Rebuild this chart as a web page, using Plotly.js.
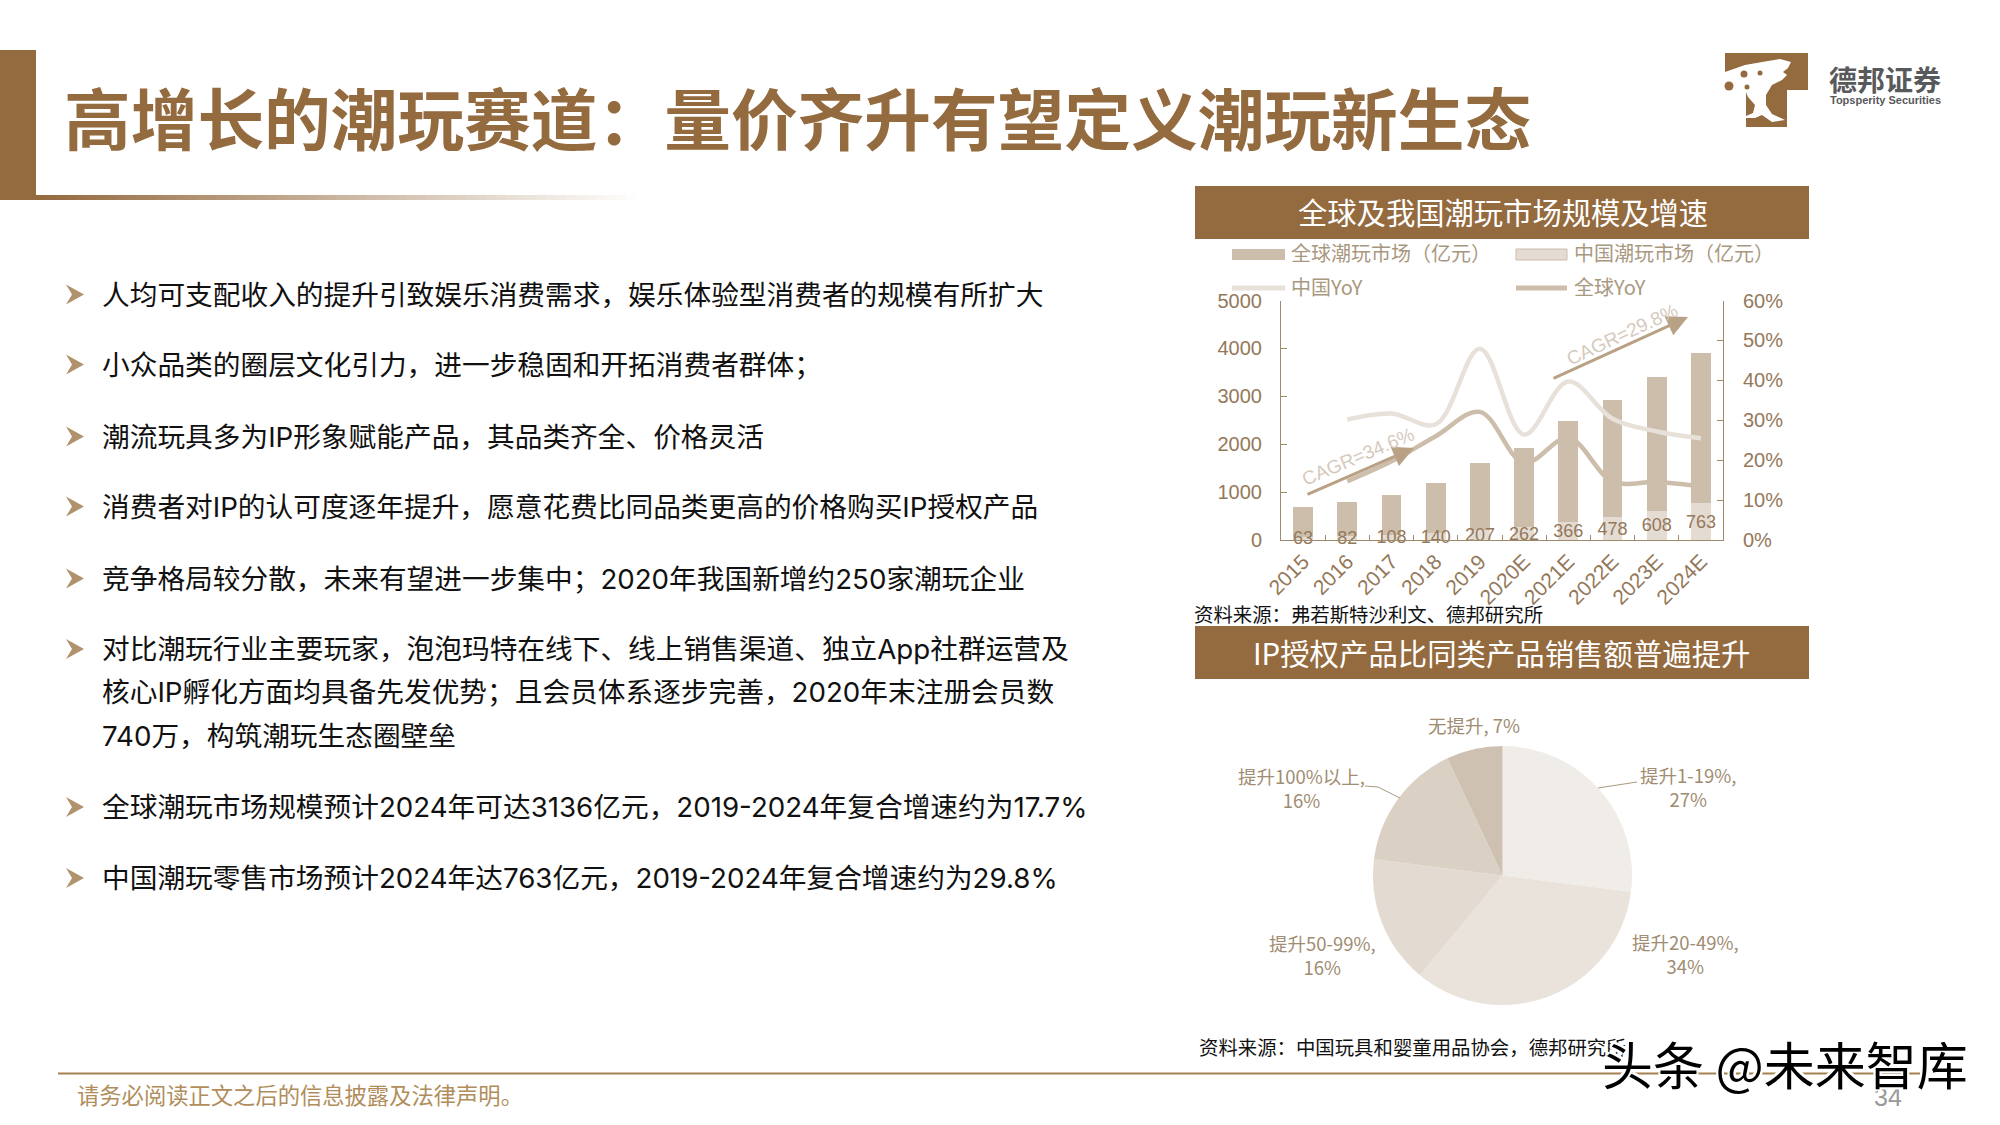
<!DOCTYPE html>
<html>
<head>
<meta charset="utf-8">
<script src="https://cdn.plot.ly/plotly-3.0.1.min.js"></script>
<style>
  html, body { margin: 0; padding: 0; background: #fff; overflow: hidden; }
</style>
</head>
<body>
<div id="slide" style="width:2000px;height:1125px"></div>
<script>
var years = ['2015', '2016', '2017', '2018', '2019', '2020E', '2021E', '2022E', '2023E', '2024E']
var chinaMarket = [63, 82, 108, 140, 207, 262, 366, 478, 608, 763]
var globalMarket = [622, 715, 836, 1056, 1401, 1668, 2110, 2438, 2791, 3136]
var chinaYoY = [null, 30.2, 31.7, 29.0, 47.9, 26.4, 39.7, 30.4, 27.2, 25.5]
var globalYoY = [null, 14.7, 19.7, 26.0, 32.1, 19.3, 25.6, 14.7, 14.5, 13.4]
var yoyTicks = [0, 10, 20, 30, 40, 50, 60]
var yoyTickLabels = ['0%', '10%', '20%', '30%', '40%', '50%', '60%']

var pieLabels = ['提升1-19%', '提升20-49%', '提升50-99%', '提升100%以上', '无提升']
var pieValues = [27, 34, 16, 16, 7]
var pieColors = ['#F0ECE7', '#E9E3DC', '#E3DBD1', '#DBD0C4', '#CFC1B1']

var pageTitle = '高增长的潮玩赛道：量价齐升有望定义潮玩新生态'
var bulletLines = [
  ['人均可支配收入的提升引致娱乐消费需求，娱乐体验型消费者的规模有所扩大'],
  ['小众品类的圈层文化引力，进一步稳固和开拓消费者群体；'],
  ['潮流玩具多为IP形象赋能产品，其品类齐全、价格灵活'],
  ['消费者对IP的认可度逐年提升，愿意花费比同品类更高的价格购买IP授权产品'],
  ['竞争格局较分散，未来有望进一步集中；2020年我国新增约250家潮玩企业'],
  ['对比潮玩行业主要玩家，泡泡玛特在线下、线上销售渠道、独立App社群运营及',
   '核心IP孵化方面均具备先发优势；且会员体系逐步完善，2020年末注册会员数',
   '740万，构筑潮玩生态圈壁垒'],
  ['全球潮玩市场规模预计2024年可达3136亿元，2019-2024年复合增速约为17.7%'],
  ['中国潮玩零售市场预计2024年达763亿元，2019-2024年复合增速约为29.8%']
]
var bulletRows = [294.5, 364.5, 436.5, 506.5, 578.5, 649, 692, 736, 807, 878]

var CJK = '"Noto Sans CJK SC", "Liberation Sans", sans-serif'
var BODY = 'Inter, "Noto Sans CJK SC", sans-serif'
var LATIN = '"Liberation Sans", "Noto Sans CJK SC", sans-serif'
var BROWN = '#946A3F'
var TICK = '#94785A'
var BAR_GLOBAL = '#CDBDAB'
var BAR_CHINA = '#E4DCD3'
var LINE_CHINA = '#E8E1DA'
var LINE_GLOBAL = '#CDBDAB'

// slide is drawn in page pixels, these turn them into paper coordinates
function px(x) { return x / 2000 }
function py(y) { return 1 - y / 1125 }

function rect(x0, y0, x1, y1, fill, border) {
  return {
    type: 'rect', xref: 'paper', yref: 'paper',
    x0: px(x0), x1: px(x1), y0: py(y0), y1: py(y1),
    fillcolor: fill, line: {width: border ? 1 : 0, color: border || fill}
  }
}
function line(x0, y0, x1, y1, color, width) {
  return {
    type: 'line', xref: 'paper', yref: 'paper',
    x0: px(x0), x1: px(x1), y0: py(y0), y1: py(y1),
    line: {color: color, width: width}
  }
}
function dot(x, y, r, fill) {
  return {
    type: 'circle', xref: 'paper', yref: 'paper',
    x0: px(x - r), x1: px(x + r), y0: py(y - r), y1: py(y + r),
    fillcolor: fill, line: {width: 0}
  }
}
function poly(points, fill) {
  var d = points.map(function (p, i) {
    return (i ? 'L' : 'M') + px(p[0]) + ',' + py(p[1])
  }).join('') + 'Z'
  return {type: 'path', xref: 'paper', yref: 'paper', path: d, fillcolor: fill, line: {width: 0}}
}
function label(x, y, text, size, color, opts) {
  return Object.assign({
    xref: 'paper', yref: 'paper', x: px(x), y: py(y), text: text, showarrow: false,
    xanchor: 'left', yanchor: 'middle', align: 'left',
    font: {family: CJK, size: size, color: color}
  }, opts || {})
}

var shapes = []
var annotations = []

/**
 * HEADER
 */
shapes.push(rect(0, 50, 36, 200, BROWN))
for (var i = 0; i < 60; i++) {
  var t = i / 60
  var r = Math.round(148 + (255 - 148) * t)
  var g = Math.round(106 + (255 - 106) * t)
  var b = Math.round(63 + (255 - 63) * t)
  shapes.push(rect(36 + i * 10, 195, 46 + i * 10, 200, 'rgb(' + r + ',' + g + ',' + b + ')'))
}
annotations.push(label(62, 115.6, '<b>' + pageTitle + '</b>', 66.7, BROWN))

// logo
shapes.push(poly([[1725, 53], [1808, 53], [1808, 90], [1787, 90], [1787, 127], [1746, 127], [1746, 90], [1725, 90]], BROWN))
shapes.push(poly([
  [1725, 72], [1745, 65], [1768, 61], [1780, 59], [1791, 62], [1788, 68], [1783, 72], [1787, 75],
  [1782, 80], [1772, 85], [1766, 95], [1766, 105], [1772, 114], [1785, 120], [1772, 122], [1762, 115],
  [1755, 118], [1746, 118], [1746, 116], [1753, 113], [1755, 105], [1748, 97], [1746, 92], [1725, 92]
], '#fff'))
shapes.push(dot(1744, 74, 3.5, BROWN), dot(1760, 73, 2.5, BROWN), dot(1729, 86, 4.5, BROWN), dot(1747, 87, 2.5, BROWN))
annotations.push(label(1827, 79, '<b>德邦证券</b>', 28, '#58595B'))
annotations.push(label(1828, 100, '<b>Topsperity Securities</b>', 11, '#58595B', {font: {family: LATIN, size: 11, color: '#58595B'}}))

/**
 * BULLETS
 */
var row = 0
bulletLines.forEach(function (lines) {
  var y = bulletRows[row]
  shapes.push(poly([[66, y - 10], [84, y], [66, y + 10], [72, y]], '#B0926C'))
  lines.forEach(function (text) {
    annotations.push(label(99.5, bulletRows[row], text, 27.7, '#111111', {font: {family: BODY, size: 27.7, color: '#111111'}}))
    row++
  })
})

/**
 * MARKET SIZE AND GROWTH
 * Stacked bars on the left axis, two YoY lines on the right
 */
shapes.push(rect(1195, 186, 1809, 239, BROWN))
annotations.push(label(1503, 211, '全球及我国潮玩市场规模及增速', 29.3, '#fff', {xanchor: 'center'}))

shapes.push(rect(1232, 249, 1285, 260, BAR_GLOBAL))
annotations.push(label(1288.5, 252.5, '全球潮玩市场（亿元）', 20, '#A99880'))
shapes.push(rect(1516, 249, 1567, 260, BAR_CHINA, BAR_GLOBAL))
annotations.push(label(1571.5, 252.5, '中国潮玩市场（亿元）', 20, '#A99880'))
shapes.push(line(1232, 288, 1285, 288, LINE_CHINA, 5))
annotations.push(label(1288.5, 286, '中国YoY', 20, '#A99880'))
shapes.push(line(1516, 288, 1567, 288, LINE_GLOBAL, 5))
annotations.push(label(1571.5, 286, '全球YoY', 20, '#A99880'))

function growthArrow(x0, y0, x1, y1) {
  return {
    xref: 'paper', yref: 'paper', x: px(x1), y: py(y1), ax: x0 - x1, ay: y0 - y1,
    axref: 'pixel', ayref: 'pixel', text: '', showarrow: true,
    arrowhead: 2, arrowsize: 1.4, arrowwidth: 3, arrowcolor: '#B8A184'
  }
}
annotations.push(growthArrow(1306, 495, 1414, 448))
annotations.push(growthArrow(1552, 379, 1688, 317))
annotations.push(label(1358, 456, 'CAGR=34.6%', 19, '#D5CABD', {xanchor: 'center', textangle: -23, font: {family: LATIN, size: 19, color: '#D5CABD'}}))
annotations.push(label(1622, 334, 'CAGR=29.8%', 19, '#D5CABD', {xanchor: 'center', textangle: -25, font: {family: LATIN, size: 19, color: '#D5CABD'}}))

annotations.push(label(1192, 613, '资料来源：弗若斯特沙利文、德邦研究所', 19.4, '#111111'))

var chart_data_market = [
  {
    x: years,
    y: chinaMarket,
    name: '中国潮玩市场（亿元）',
    type: 'bar',
    marker: {color: BAR_CHINA},
    hoverinfo: 'x+y'
  },
  {
    x: years,
    y: globalMarket,
    name: '全球潮玩市场（亿元）',
    type: 'bar',
    marker: {color: BAR_GLOBAL},
    hoverinfo: 'x+y'
  },
  {
    x: years,
    y: chinaYoY,
    name: '中国YoY',
    yaxis: 'y2',
    type: 'scatter',
    mode: 'lines',
    line: {color: LINE_CHINA, width: 4.5, shape: 'spline', smoothing: 1}
  },
  {
    x: years,
    y: globalYoY,
    name: '全球YoY',
    yaxis: 'y2',
    type: 'scatter',
    mode: 'lines',
    line: {color: LINE_GLOBAL, width: 4.5, shape: 'spline', smoothing: 1}
  },
  // China values sit in the middle of the light bar, on top of everything
  // (small drop because scatter text rides a bit high)
  {
    x: years,
    y: chinaMarket.map(function (v) { return v / 2 - 31 }),
    type: 'scatter',
    mode: 'text',
    text: chinaMarket.map(String),
    textposition: 'middle center',
    textfont: {family: LATIN, size: 18, color: TICK},
    cliponaxis: false,
    hoverinfo: 'skip'
  }
]

/**
 * SALES UPLIFT OF IP LICENSED PRODUCTS
 * Pie chart, five sections, labels placed by hand as in the slide
 */
shapes.push(rect(1195, 626, 1809, 679, BROWN))
annotations.push(label(1501, 651.5, 'IP授权产品比同类产品销售额普遍提升', 29.4, '#fff', {xanchor: 'center'}))

var pieLabelSpots = [[1688, 787], [1685, 954], [1322, 955], [1301, 787.5], [1473.5, 724.5]]
pieLabels.forEach(function (name, i) {
  var text = i === 4 ? name + ', ' + pieValues[i] + '%' : name + ',<br>' + pieValues[i] + '%'
  annotations.push(label(pieLabelSpots[i][0], pieLabelSpots[i][1], text, 18.5, '#A08C72', {xanchor: 'center', align: 'center'}))
})
shapes.push(line(1598, 788, 1637, 782, '#A99880', 1))
shapes.push(line(1400, 798, 1378, 787, '#A99880', 1))
shapes.push(line(1378, 787, 1365, 786, '#A99880', 1))

annotations.push(label(1197, 1046, '资料来源：中国玩具和婴童用品协会，德邦研究所', 19.4, '#111111'))

var chart_data_pie = {
  type: 'pie',
  labels: pieLabels,
  values: pieValues,
  sort: false,
  direction: 'clockwise',
  rotation: 0,
  textinfo: 'none',
  hoverinfo: 'label+percent',
  marker: {colors: pieColors, line: {width: 0}},
  domain: {x: [px(1373), px(1632)], y: [py(1005), py(746)]}
}

/**
 * FOOTER
 */
shapes.push(line(58, 1073.5, 1920, 1073.5, '#A5814F', 2))
annotations.push(label(75, 1094, '请务必阅读正文之后的信息披露及法律声明。', 22.3, '#B08D5B'))
annotations.push(label(1872, 1097, '34', 25, '#999999', {font: {family: LATIN, size: 25, color: '#999999'}}))
annotations.push(label(1600, 1063, '头条 @未来智库', 51, '#000', {
  font: {
    family: CJK, size: 51, color: '#000',
    shadow: '2px 2px 0 #fff, -2px -2px 0 #fff, 2px -2px 0 #fff, -2px 2px 0 #fff'
  }
}))

var chart_layout = {
  width: 2000,
  height: 1125,
  margin: {l: 0, r: 0, t: 0, b: 0},
  paper_bgcolor: '#fff',
  plot_bgcolor: 'rgba(0,0,0,0)',
  showlegend: false,
  barmode: 'stack',
  bargap: 0.55,
  font: {family: LATIN, color: TICK},
  xaxis: {
    domain: [px(1281), px(1723)],
    type: 'category',
    anchor: 'y',
    tickangle: -45,
    tickson: 'boundaries',
    ticks: 'inside',
    ticklen: 5,
    tickcolor: '#A08A6E',
    showline: true,
    linecolor: '#A08A6E',
    showgrid: false,
    tickfont: {family: LATIN, size: 21, color: TICK}
  },
  yaxis: {
    domain: [py(540), py(300.5)],
    range: [0, 5000],
    tickvals: [0, 1000, 2000, 3000, 4000, 5000],
    ticks: 'inside',
    ticklen: 6,
    tickcolor: '#A08A6E',
    showline: true,
    linecolor: '#A08A6E',
    showgrid: false,
    zeroline: false,
    ticklabelstandoff: 14,
    tickfont: {family: LATIN, size: 20, color: TICK}
  },
  yaxis2: {
    domain: [py(540), py(300.5)],
    range: [0, 60],
    overlaying: 'y',
    side: 'right',
    anchor: 'x',
    tickmode: 'array',
    tickvals: yoyTicks,
    ticktext: yoyTickLabels,
    ticks: 'inside',
    ticklen: 6,
    tickcolor: '#A08A6E',
    showline: true,
    linecolor: '#A08A6E',
    showgrid: false,
    zeroline: false,
    ticklabelstandoff: 15,
    tickfont: {family: LATIN, size: 20, color: TICK}
  },
  shapes: shapes,
  annotations: annotations
}

Plotly.newPlot('slide', chart_data_market.concat([chart_data_pie]), chart_layout, {displayModeBar: false})
</script>
</body>
</html>
